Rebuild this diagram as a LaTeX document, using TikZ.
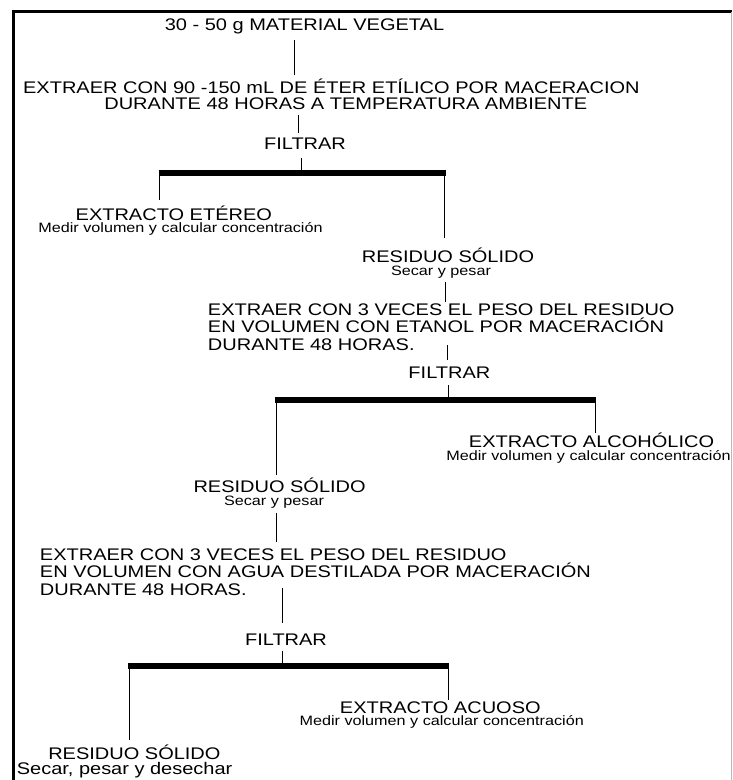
\documentclass[tikz,border=0pt]{standalone}
\usepackage{fontspec}
\setmainfont[FakeStretch=1.19]{Liberation Sans}
\begin{document}
\begin{tikzpicture}[x=0.75pt,y=-0.75pt,
  main/.style={font=\fontsize{12.6pt}{11.5pt}\selectfont, inner sep=0pt},
  mainb/.style={font=\fontsize{12.6pt}{13.1pt}\selectfont, inner sep=0pt},
  small/.style={font=\fontsize{10.2pt}{11pt}\selectfont, inner sep=0pt},
  conn/.style={line width=0.75pt},
  bar/.style={line width=4.5pt},
  frame/.style={line width=2.5pt, line join=miter}]
\useasboundingbox (0,0) rectangle (732,780);
% frame
\coordinate (fbl) at (13.3,780);
\coordinate (ftl) at (13.3,11.7);
\coordinate (ftr) at (732,11.7);
\coordinate (frt) at (731.5,11.7);
\coordinate (frb) at (731.5,780);
\draw[frame] (fbl) -- (ftl) -- (ftr);
\draw[gray!55, line width=0.75pt] (frt) -- (frb);

% texts (multi-line nodes: base anchor = baseline of last line)
\node[main, anchor=base] (t1) at (304.5,30.5) {30 - 50 g MATERIAL VEGETAL};
\node[main, align=center, anchor=base] (t2) at (331.4,109.3)
  {EXTRAER CON 90 -150 mL DE ÉTER ETÍLICO POR MACERACION\\\hspace*{21.6pt}DURANTE 48 HORAS A TEMPERATURA AMBIENTE};
\node[main, anchor=base] (f1) at (305,150) {FILTRAR};
\node[main, anchor=base] (e1) at (173.8,220.5) {EXTRACTO ETÉREO};
\node[small, anchor=base] (e1s) at (180.5,233) {Medir volumen y calcular concentración};
\node[main, anchor=base] (r1) at (448,262.5) {RESIDUO SÓLIDO};
\node[small, anchor=base] (r1s) at (441,275) {Secar y pesar};
\node[mainb, align=left, anchor=base west] (t3) at (207.7,350)
  {EXTRAER CON 3 VECES EL PESO DEL RESIDUO\\EN VOLUMEN CON ETANOL POR MACERACIÓN\\DURANTE 48 HORAS.};
\node[main, anchor=base] (f2) at (449.4,378.3) {FILTRAR};
\node[main, anchor=base] (e2) at (591.5,447.5) {EXTRACTO ALCOHÓLICO};
\node[small, anchor=base] (e2s) at (588.5,460) {Medir volumen y calcular concentración};
\node[main, anchor=base] (r2) at (279.6,492.5) {RESIDUO SÓLIDO};
\node[small, anchor=base] (r2s) at (274,505) {Secar y pesar};
\node[mainb, align=left, anchor=base west] (t4) at (39.7,595)
  {EXTRAER CON 3 VECES EL PESO DEL RESIDUO\\EN VOLUMEN CON AGUA DESTILADA POR MACERACIÓN\\DURANTE 48 HORAS.};
\node[main, anchor=base] (f3) at (286,645) {FILTRAR};
\node[main, anchor=base] (e3) at (440.3,713) {EXTRACTO ACUOSO};
\node[small, anchor=base] (e3s) at (441.7,725.5) {Medir volumen y calcular concentración};
\node[main, anchor=base] (r3) at (134.4,759) {RESIDUO SÓLIDO};
\node[main, anchor=base] (r3s) at (124.6,774) {Secar, pesar y desechar};

% connector end points
\coordinate (c1a) at (294,40);    \coordinate (c1b) at (294,75);
\coordinate (c2a) at (298.6,115); \coordinate (c2b) at (298.6,133.3);
\coordinate (c3a) at (301,158.3); \coordinate (c3b) at (301,172);
\coordinate (b1l) at (158.5,173); \coordinate (b1r) at (445.5,173);
\coordinate (d1la) at (159.3,174); \coordinate (d1lb) at (159.3,200);
\coordinate (d1ra) at (444.2,174); \coordinate (d1rb) at (444.2,238.3);
\coordinate (c4a) at (445.6,281.7); \coordinate (c4b) at (445.6,301.7);
\coordinate (c5a) at (447,345);   \coordinate (c5b) at (447,360);
\coordinate (c6a) at (448,385);   \coordinate (c6b) at (448,398);
\coordinate (b2l) at (275.3,399.7); \coordinate (b2r) at (595.9,399.7);
\coordinate (d2la) at (276.3,401); \coordinate (d2lb) at (276.3,475);
\coordinate (d2ra) at (595,401);   \coordinate (d2rb) at (595,432.7);
\coordinate (c7a) at (276.3,513); \coordinate (c7b) at (276.3,541.7);
\coordinate (c8a) at (282.3,588.3); \coordinate (c8b) at (282.3,623.3);
\coordinate (c9a) at (282.3,650.7); \coordinate (c9b) at (282.3,665);
\coordinate (b3l) at (128.3,666.3); \coordinate (b3r) at (448.9,666.3);
\coordinate (d3la) at (129.3,668); \coordinate (d3lb) at (129.3,740);
\coordinate (d3ra) at (448,668);   \coordinate (d3rb) at (448,700);

\draw[conn] (c1a) -- (c1b);
\draw[conn] (c2a) -- (c2b);
\draw[conn] (c3a) -- (c3b);
\draw[bar] (b1l) -- (b1r);
\draw[conn] (d1la) -- (d1lb);
\draw[conn] (d1ra) -- (d1rb);
\draw[conn] (c4a) -- (c4b);
\draw[conn] (c5a) -- (c5b);
\draw[conn] (c6a) -- (c6b);
\draw[bar] (b2l) -- (b2r);
\draw[conn] (d2la) -- (d2lb);
\draw[conn] (d2ra) -- (d2rb);
\draw[conn] (c7a) -- (c7b);
\draw[conn] (c8a) -- (c8b);
\draw[conn] (c9a) -- (c9b);
\draw[bar] (b3l) -- (b3r);
\draw[conn] (d3la) -- (d3lb);
\draw[conn] (d3ra) -- (d3rb);
\end{tikzpicture}
\end{document}
